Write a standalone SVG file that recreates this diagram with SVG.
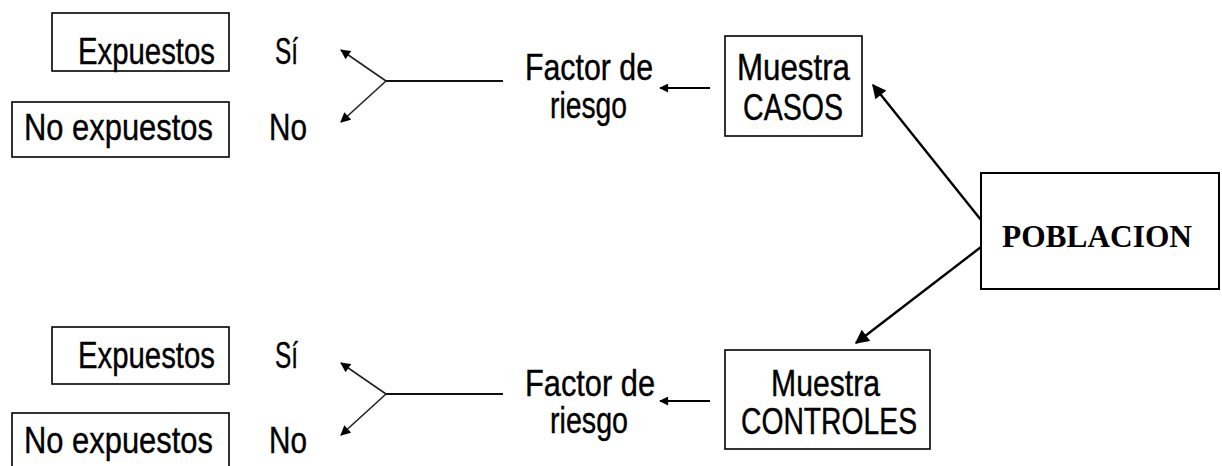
<svg xmlns="http://www.w3.org/2000/svg" width="1222" height="466" viewBox="0 0 1222 466">
<style>
.box{fill:#fff;stroke:#000;stroke-width:1.6}
.t{font-family:"Liberation Sans",Arial,sans-serif;font-size:37px;fill:#000;stroke:#000;stroke-width:0.4}
.tb{font-family:"Liberation Serif","Times New Roman",serif;font-size:32px;font-weight:bold;fill:#000}
.thin{stroke:#222;stroke-width:1.6;fill:none}
.line{stroke:#111;stroke-width:1.8;fill:none}
.mid{stroke:#000;stroke-width:2;fill:none}
.big{stroke:#000;stroke-width:2.4;fill:none}
</style>
<defs>
<marker id="ah" viewBox="0 0 10 10" refX="9" refY="5" markerWidth="11" markerHeight="10" markerUnits="userSpaceOnUse" orient="auto">
<path d="M0,0 L10,5 L0,10 Z" fill="#000"/>
</marker>
<marker id="am" viewBox="0 0 10 10" refX="9" refY="5" markerWidth="12" markerHeight="9" markerUnits="userSpaceOnUse" orient="auto">
<path d="M0,0 L10,5 L0,10 Z" fill="#000"/>
</marker>
<marker id="ab" viewBox="0 0 10 10" refX="9" refY="5" markerWidth="20" markerHeight="14" markerUnits="userSpaceOnUse" orient="auto">
<path d="M0,0 L10,5 L0,10 Z" fill="#000"/>
</marker>
</defs>
<rect width="1222" height="466" fill="#fff"/>

<g id="connectors">
<path class="line" d="M503,81 L386,81"/>
<path class="thin" d="M386,81 L341,50" marker-end="url(#ah)"/>
<path class="thin" d="M386,81 L341,122" marker-end="url(#ah)"/>
<path class="mid" d="M710,88 L660,88" marker-end="url(#am)"/>
<path class="line" d="M503,394 L386,394"/>
<path class="thin" d="M386,394 L341,363" marker-end="url(#ah)"/>
<path class="thin" d="M386,394 L341,435" marker-end="url(#ah)"/>
<path class="mid" d="M710,401 L660,401" marker-end="url(#am)"/>
<path class="big" d="M981,220 L873,85" marker-end="url(#ab)"/>
<path class="big" d="M981,247 L856,343" marker-end="url(#ab)"/>
</g>

<g id="expuestos-casos">
<rect class="box" x="52" y="13" width="177" height="58"/>
<text class="t" x="78" y="64" textLength="137" lengthAdjust="spacingAndGlyphs">Expuestos</text>
</g>
<g id="si-casos"><text class="t" x="275" y="64" textLength="23" lengthAdjust="spacingAndGlyphs">Sí</text></g>
<g id="noexpuestos-casos">
<rect class="box" x="12" y="102" width="217" height="55"/>
<text class="t" x="24" y="140" textLength="189" lengthAdjust="spacingAndGlyphs">No expuestos</text>
</g>
<g id="no-casos"><text class="t" x="269" y="140" textLength="38" lengthAdjust="spacingAndGlyphs">No</text></g>
<g id="factor-casos">
<text class="t" x="525" y="80" textLength="128" lengthAdjust="spacingAndGlyphs">Factor de</text>
<text class="t" x="550" y="118" textLength="77" lengthAdjust="spacingAndGlyphs">riesgo</text>
</g>
<g id="muestra-casos">
<rect class="box" x="725" y="36" width="137" height="100"/>
<text class="t" x="737" y="80" textLength="113" lengthAdjust="spacingAndGlyphs">Muestra</text>
<text class="t" x="743" y="120" textLength="100" lengthAdjust="spacingAndGlyphs">CASOS</text>
</g>

<g id="poblacion">
<rect x="981" y="173" width="238" height="116" fill="#fff" stroke="#000" stroke-width="2"/>
<text class="tb" x="1097" y="247" text-anchor="middle" textLength="190" lengthAdjust="spacingAndGlyphs">POBLACION</text>
</g>

<g id="expuestos-controles">
<rect class="box" x="52" y="327" width="177" height="57"/>
<text class="t" x="78" y="368" textLength="137" lengthAdjust="spacingAndGlyphs">Expuestos</text>
</g>
<g id="si-controles"><text class="t" x="275" y="368" textLength="23" lengthAdjust="spacingAndGlyphs">Sí</text></g>
<g id="noexpuestos-controles">
<rect class="box" x="12" y="413" width="217" height="60"/>
<text class="t" x="24" y="453" textLength="189" lengthAdjust="spacingAndGlyphs">No expuestos</text>
</g>
<g id="no-controles"><text class="t" x="269" y="453" textLength="38" lengthAdjust="spacingAndGlyphs">No</text></g>
<g id="factor-controles">
<text class="t" x="525" y="396" textLength="130" lengthAdjust="spacingAndGlyphs">Factor de</text>
<text class="t" x="550" y="433" textLength="78" lengthAdjust="spacingAndGlyphs">riesgo</text>
</g>
<g id="muestra-controles">
<rect class="box" x="725" y="350" width="205" height="99"/>
<text class="t" x="771" y="396" textLength="109" lengthAdjust="spacingAndGlyphs">Muestra</text>
<text class="t" x="741" y="434" textLength="176" lengthAdjust="spacingAndGlyphs">CONTROLES</text>
</g>
</svg>
